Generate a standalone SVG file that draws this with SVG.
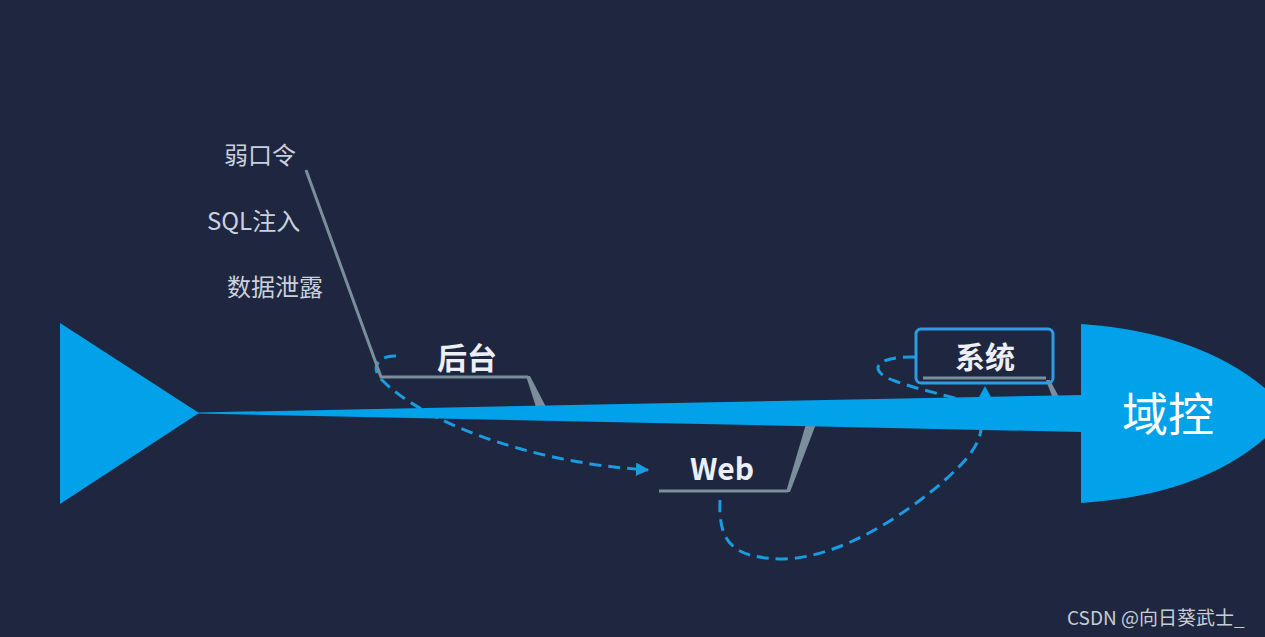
<svg xmlns="http://www.w3.org/2000/svg" width="1265" height="637" viewBox="0 0 1265 637">
<style>
.bone{fill:none;stroke:#7b8e9c;stroke-width:3}
.wedge{fill:#7b8e9c}
.dash{fill:none;stroke:#1b9be0;stroke-width:3;stroke-dasharray:12 7}
.cause{font-family:"Noto Sans CJK SC","Liberation Sans",sans-serif;font-size:24px;fill:#c9d1de}
.lbl{font-family:"Noto Sans CJK SC","Liberation Sans",sans-serif;font-size:30px;font-weight:bold;fill:#eceff6;text-anchor:middle}
</style>
<defs>
<marker id="arr" viewBox="0 0 10 10" refX="9" refY="5" markerWidth="4.5" markerHeight="4.5" orient="auto" markerUnits="strokeWidth">
<path d="M0,0 L10,5 L0,10 z" fill="#1b9be0"/>
</marker>
</defs>
<rect width="1265" height="637" fill="#1f2740"/>
<g id="connectors">
<path class="dash" d="M720,500 C718,545 735,558 783,559 C840,558 905,515 945,480 C965,462 978,448 981,430"/>
<path class="dash" d="M396,356 C380,355 368,367 383,381 C420,418 520,462 648,470" marker-end="url(#arr)"/>
<path class="dash" d="M915,357 C872,356 868,372 895,381 C920,390 945,395 962,400"/>
</g>
<g id="tail"><polygon points="60,323 60,504 199,413" fill="#02a2eb"/></g>
<g id="bone-houtai">
<polyline class="bone" points="306,170 381,377 528,377"/>
<polygon class="wedge" points="526,376 530,376 546,407 536,407"/>
<text class="lbl" x="467" y="369">后台</text>
<text class="cause" x="224" y="164">弱口令</text>
<text class="cause" x="207" y="230">SQL注入</text>
<text class="cause" x="227" y="296">数据泄露</text>
</g>
<g id="bone-web">
<line class="bone" x1="659" y1="491" x2="788" y2="491"/>
<polygon class="wedge" points="786,492 790,492 816,424 806,424"/>
<text class="lbl" x="722" y="480" font-family="Liberation Sans">Web</text>
</g>
<g id="bone-xitong">
<polygon class="wedge" points="1046,380 1050,380 1060,399 1053,399"/>
<rect x="916" y="329" width="137" height="54" rx="5" fill="none" stroke="#2d9be6" stroke-width="3"/>
<line class="bone" x1="923" y1="378" x2="1046" y2="378"/>
<text class="lbl" x="985" y="368">系统</text>
</g>
<g id="spine"><polygon points="198,412.5 1082,395 1082,432 198,413.5" fill="#02a2eb"/></g>
<polygon points="985,386 978,399 992,399" fill="#02a2eb"/>
<g id="head">
<path d="M1081,324 Q1222,334 1290,413 Q1222,494 1081,503 Z" fill="#02a2eb"/>
<text x="1168" y="431" font-family="Noto Sans CJK SC,sans-serif" font-size="46" fill="#ffffff" text-anchor="middle">域控</text>
</g>
<text x="1067" y="625" font-family="Noto Sans CJK SC,Liberation Sans,sans-serif" font-size="19" fill="#c6ccd6">CSDN @向日葵武士_</text>
</svg>
